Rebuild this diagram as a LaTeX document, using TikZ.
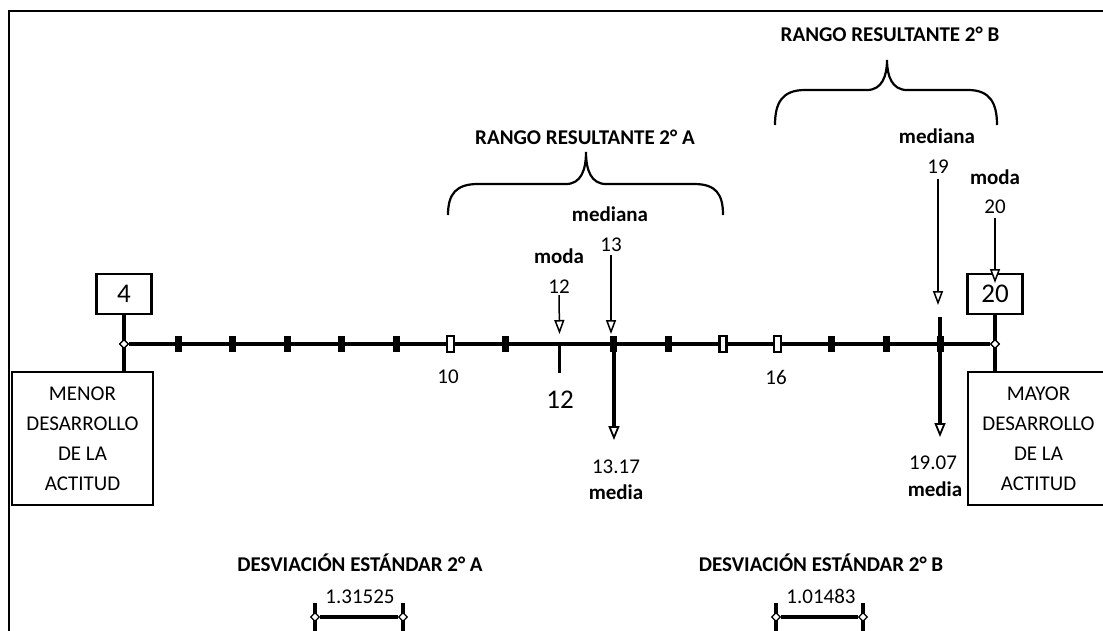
\documentclass[tikz,border=0pt]{standalone}
\usepackage{fontspec}
\setmainfont{Carlito}
\usetikzlibrary{arrows.meta,shapes.geometric}
\begin{document}
\begin{tikzpicture}[x=1pt,y=-1pt,
  txt/.style={inner sep=0pt,font=\fontsize{21}{30}\selectfont,text height=13.5pt,text depth=0pt},
  btxt/.style={inner sep=0pt,font=\fontsize{21}{30}\selectfont\bfseries,text height=13.5pt,text depth=0pt},
  bigtxt/.style={inner sep=0pt,font=\fontsize{27}{30}\selectfont,text height=17.4pt,text depth=0pt},
  valbox/.style={draw,line width=2.2pt,fill=white,minimum width=55pt,minimum height=40pt,inner sep=0pt,font=\fontsize{27}{30}\selectfont},
  endbox/.style={draw,line width=2.2pt,fill=white,minimum width=141pt,minimum height=133pt,inner sep=0pt,align=center,font=\fontsize{21}{30}\selectfont},
  tk/.style={fill=black,inner sep=0pt,minimum width=7pt,minimum height=16pt},
  tkopen/.style={draw=black,fill=white,line width=2.4pt,inner sep=0pt,minimum width=7pt,minimum height=16pt},
  dmd/.style={diamond,draw,fill=white,line width=1.2pt,inner sep=0pt,minimum size=9pt},
  thinarr/.style={line width=1.5pt,-{Triangle[length=14pt,width=10pt,fill=white]}},
  thickarr/.style={line width=4pt,-{Triangle[length=14pt,width=11pt,fill=white,line width=1.8pt]}},
  bracepath/.style={line width=2.2pt},
  frame/.style={line width=2.5pt},
]
\useasboundingbox (0,0) rectangle (1103,630);

% frame
\draw[frame] (9,632) -- (9,11) -- (1106,11);

% braces
\draw[bracepath] (448,215) .. controls (448,194) and (456,184) .. (478,184) -- (566,184)
  .. controls (581,184) and (586,170) .. (586,152)
  .. controls (586,170) and (591,184) .. (606,184) -- (694,184)
  .. controls (716,184) and (723,194) .. (723,215);
\draw[bracepath] (775,125) .. controls (775,103) and (782,90) .. (805,90) -- (867,90)
  .. controls (882,90) and (887,76) .. (887,60)
  .. controls (887,76) and (892,90) .. (907,90) -- (968,90)
  .. controls (990,90) and (997,103) .. (997,125);

% titles
\node[btxt] (rA) at (585,138) {RANGO RESULTANTE 2° A};
\node[btxt] (rB) at (890,35) {RANGO RESULTANTE 2° B};

% end boxes
\node[valbox] (b4) at (124,294) {4};
\node[valbox] (b20) at (995,294) {20};
\node[endbox] (menor) at (82.5,438.5) {MENOR\\DESARROLLO\\DE LA\\ACTITUD};
\node[endbox] (mayor) at (1038.5,438.5) {MAYOR\\DESARROLLO\\DE LA\\ACTITUD};

% axis coordinates
\foreach \v in {5,...,19} \coordinate (a\v) at ({124+(\v-4)*54.44},344);

\draw[line width=3.5pt] (b4.south) -- (b4.south |- menor.north);
\draw[line width=3.5pt] (b20.south) -- (b20.south |- mayor.north);

\node[dmd] (d4) at (124,344) {};
\node[dmd] (d20) at (995,344) {};
\draw[line width=4.5pt] (d4) -- (d20);

% ticks
\foreach \v in {5,6,7,8,9,11,13,14,17,18,19} \node[tk] (tk\v) at (a\v) {};
\foreach \v in {10,15,16} \node[tkopen] (tk\v) at (a\v) {};
\node[dmd] at (d4) {};
\node[dmd] at (d20) {};

% tick labels
\node[txt] (l10) at (448,377) {10};
\node[txt] (l16) at (776,378) {16};
\node[bigtxt] (l12big) at (560,400) {12};
\coordinate (t12low) at ([yshift=-29pt]a12);
\draw[line width=3.5pt] (a12) -- (t12low);

% moda / mediana 2A
\node[btxt] (medA) at (610,215) {mediana};
\node[txt] (v13) at (611,245) {13};
\node[btxt] (modA) at (559,257) {moda};
\node[txt] (v12) at (559,287) {12};
\coordinate (tip13) at (611,334);
\coordinate (tip12) at ([yshift=10pt]a12);
\draw[thinarr] ([yshift=-3pt]v13.south) -- (tip13);
\draw[thinarr] (v12.south |- 0,295) -- (tip12);

% media 2A
\coordinate (mAend) at ([yshift=-96pt]a13);
\draw[thickarr] (a13) -- (mAend);
\node[txt] (v1317) at (616,467) {13.17};
\node[btxt] (mediaA) at (616,493) {media};

% moda / mediana 2B
\node[btxt] (medB) at (937,137) {mediana};
\node[txt] (v19) at (938,167) {19};
\node[btxt] (modB) at (995,178) {moda};
\node[txt] (v20) at (995,207) {20};
\coordinate (tip19) at (938,305);
\coordinate (tip20) at (995,283);
\draw[thinarr] ([yshift=-5pt]v19.south) -- (tip19);
\draw[thinarr] ([yshift=-4pt]v20.south) -- (tip20);

% media 2B
\coordinate (mBtop) at (940,317);
\coordinate (mBend) at (940,437);
\draw[thickarr] (mBtop) -- (mBend);
\node[txt] (v1907) at (933,463) {19.07};
\node[btxt] (mediaB) at (935,490) {media};

% desviacion estandar
\node[btxt] (dA) at (360,565) {DESVIACIÓN ESTÁNDAR 2° A};
\node[txt] (sA) at (360,597) {1.31525};
\node[btxt] (dB) at (821,565) {DESVIACIÓN ESTÁNDAR 2° B};
\node[txt] (sB) at (821,597) {1.01483};

\coordinate (sA1t) at (315,603); \coordinate (sA1b) at (315,634);
\coordinate (sA2t) at (403,603); \coordinate (sA2b) at (403,634);
\coordinate (sB1t) at (776,603); \coordinate (sB1b) at (776,634);
\coordinate (sB2t) at (863,603); \coordinate (sB2b) at (863,634);
\draw[line width=3.5pt] (sA1t) -- (sA1b);
\draw[line width=3.5pt] (sA2t) -- (sA2b);
\draw[line width=3.5pt] (sB1t) -- (sB1b);
\draw[line width=3.5pt] (sB2t) -- (sB2b);
\node[dmd] (dA1) at (315,617) {};
\node[dmd] (dA2) at (403,617) {};
\node[dmd] (dB1) at (776,617) {};
\node[dmd] (dB2) at (863,617) {};
\draw[line width=3.5pt] (dA1) -- (dA2);
\draw[line width=3.5pt] (dB1) -- (dB2);
\end{tikzpicture}
\end{document}
